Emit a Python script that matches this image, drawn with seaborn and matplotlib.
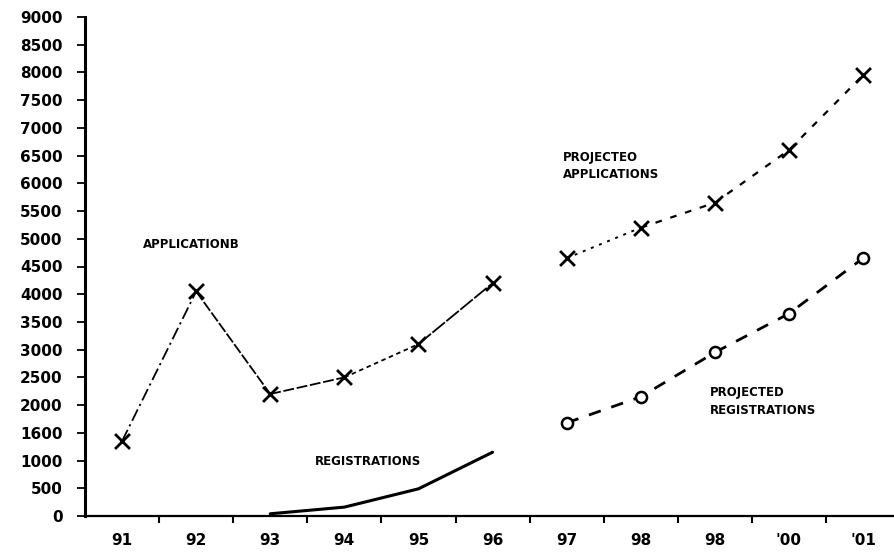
import matplotlib
matplotlib.use("Agg")
import matplotlib.pyplot as plt
import seaborn as sns
import pandas as pd
import numpy as np

sns.set_style("white")
plt.rcParams["font.family"] = ["DejaVu Sans"]

# ---- data ----
year_labels = ["91", "92", "93", "94", "95", "96", "97", "98", "98", "'00", "'01"]
ytick_values = [0, 500, 1000, 1500, 2000, 2500, 3000, 3500, 4000, 4500,
                5000, 5500, 6000, 6500, 7000, 7500, 8000, 8500, 9000]
ytick_labels = ["0", "500", "1000", "1600", "2000", "2500", "3000", "3500", "4000",
                "4500", "5000", "5500", "6000", "6500", "7000", "7500", "8000", "8500", "9000"]

applications_years = ["91", "92", "93", "94", "95", "96"]
applications = [1350, 4050, 2200, 2500, 3100, 4200]

registrations_years = ["93", "94", "95", "96"]
registrations = [40, 160, 490, 1150]

proj_years = ["97", "98", "99", "'00", "'01"]
projected_applications = [4650, 5200, 5650, 6600, 7950]
projected_registrations = [1680, 2150, 2950, 3650, 4650]

all_years = ["91", "92", "93", "94", "95", "96", "97", "98", "99", "'00", "'01"]
pos = {y: i + 0.5 for i, y in enumerate(all_years)}

df_app = pd.DataFrame({"x": [pos[y] for y in applications_years], "y": applications})
df_reg = pd.DataFrame({"x": [pos[y] for y in registrations_years], "y": registrations})
df_papp = pd.DataFrame({"x": [pos[y] for y in proj_years], "y": projected_applications})
df_preg = pd.DataFrame({"x": [pos[y] for y in proj_years], "y": projected_registrations})

fig = plt.figure(figsize=(8.94, 5.55), dpi=100)
ax = fig.add_axes([85 / 894, 39 / 555, 1 - 85 / 894, (516 - 17) / 555])

# applications: segment styles as drawn
seg_styles = [(0, (7, 2.2, 1.2, 2.2)), (0, (6, 1.2)), (0, (6, 1.5)), (0, (2.5, 2)), (0, (9, 1))]
for i, ls in enumerate(seg_styles):
    sns.lineplot(data=df_app.iloc[i:i + 2], x="x", y="y", ax=ax, color="black",
                 lw=1.3, linestyle=ls, sort=False)
sns.scatterplot(data=df_app, x="x", y="y", ax=ax, marker="x", s=115,
                color="black", linewidth=2.0, zorder=5)

# registrations
sns.lineplot(data=df_reg, x="x", y="y", ax=ax, color="black", lw=2.2)

# projected applications: dotted first, then dashed
sns.lineplot(data=df_papp.iloc[0:2], x="x", y="y", ax=ax, color="black", lw=1.4,
             linestyle=(0, (1.5, 3)))
sns.lineplot(data=df_papp.iloc[1:], x="x", y="y", ax=ax, color="black", lw=1.6,
             linestyle=(0, (3, 4)))
sns.scatterplot(data=df_papp, x="x", y="y", ax=ax, marker="x", s=115,
                color="black", linewidth=2.0, zorder=5)

# projected registrations
sns.lineplot(data=df_preg, x="x", y="y", ax=ax, color="black", lw=2.0,
             linestyle=(0, (4.5, 4)), marker="o", markersize=8,
             markerfacecolor="white", markeredgecolor="black", markeredgewidth=1.8)

# annotations
tkw = dict(fontsize=8.5, fontweight="bold", color="black")
ax.text(0.78, 4890, "APPLICATIONB", ha="left", va="center", **tkw)
ax.text(3.10, 975, "REGISTRATIONS", ha="left", va="center", **tkw)
ax.text(6.45, 6310, "PROJECTEO\nAPPLICATIONS", ha="left", va="center", linespacing=1.35, **tkw)
ax.text(8.43, 2060, "PROJECTED\nREGISTRATIONS", ha="left", va="center", linespacing=1.5, **tkw)

# axes
ax.set_xlim(0, 809 / 74.1)
ax.set_ylim(0, 9000)
ax.set_yticks(ytick_values)
ax.set_yticklabels(ytick_labels)
ax.set_xticks(np.arange(1, 11))
ax.set_xticklabels([""] * 10)
ax.set_xticks(np.arange(len(year_labels)) + 0.5, minor=True)
ax.set_xticklabels(year_labels, minor=True)
ax.tick_params(axis="x", which="major", bottom=True, direction="out", length=5,
               width=1.5, color="black")
ax.tick_params(axis="x", which="minor", bottom=True, length=0, pad=12, labelsize=11,
               labelcolor="black")
ax.tick_params(axis="y", which="major", left=True, direction="out", length=6, width=1.3,
               pad=10, labelsize=11, labelcolor="black", color="black")
for lab in ax.get_xticklabels(minor=True) + ax.get_yticklabels():
    lab.set_fontweight("bold")
ax.set_xlabel("")
ax.set_ylabel("")
for side in ["top", "right"]:
    ax.spines[side].set_visible(False)
ax.spines["left"].set_linewidth(2.2)
ax.spines["bottom"].set_linewidth(1.6)
ax.spines["left"].set_color("black")
ax.spines["bottom"].set_color("black")
ax.grid(False)

fig.savefig("out.png", dpi=100)
